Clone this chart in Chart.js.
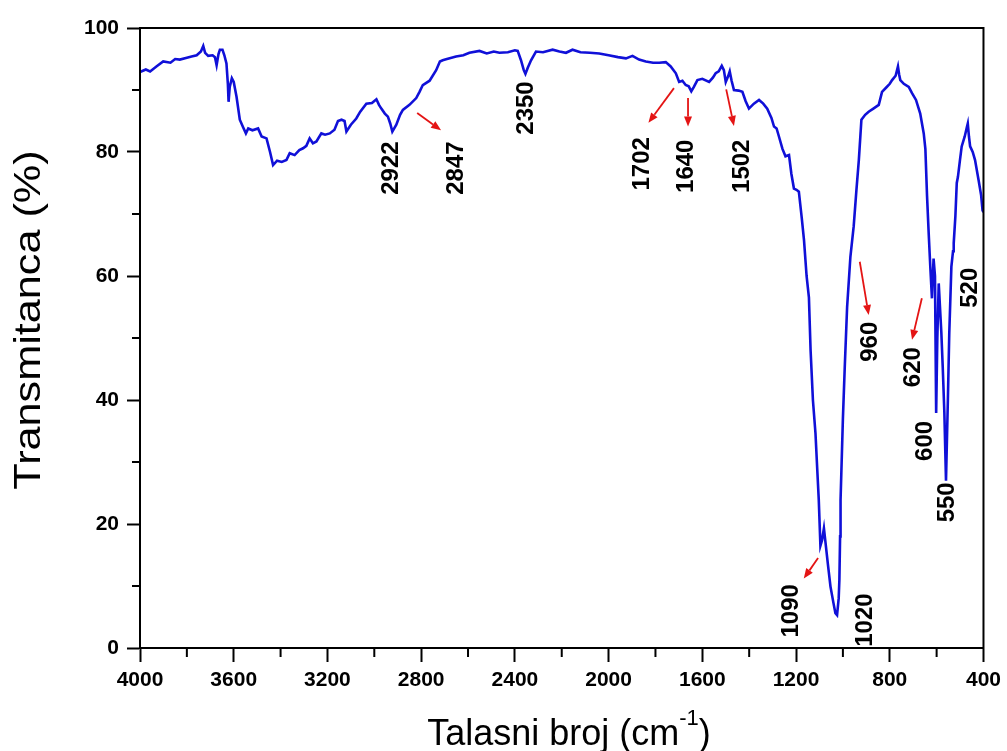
<!DOCTYPE html>
<html>
<head>
<meta charset="utf-8">
<script src="https://cdn.jsdelivr.net/npm/chart.js@4.4.0/dist/chart.umd.min.js"></script>
<style>
  html, body { margin: 0; padding: 0; background: #fff; }
  canvas { display: block; }
</style>
</head>
<body>
<canvas id="ftirChart" width="1007" height="751"></canvas>
<script>
// FTIR spectrum (wavenumber in cm-1, transmittance in %)
const wavenumbers = [
    4000, 3975, 3957, 3930, 3901, 3870, 3850, 3830, 3800, 3780, 3758, 3740, 3730, 3722, 3709, 3690,
    3680, 3673, 3665, 3659, 3648, 3640, 3631, 3625, 3622, 3617, 3608, 3600, 3588, 3574, 3560, 3548,
    3538, 3520, 3496, 3481, 3460, 3445, 3432, 3415, 3395, 3375, 3361, 3340, 3320, 3304, 3290, 3276,
    3262, 3247, 3226, 3210, 3190, 3170, 3155, 3140, 3127, 3119, 3100, 3077, 3060, 3034, 3010, 2991,
    2980, 2970, 2955, 2942, 2932, 2923, 2906, 2890, 2878, 2850, 2821, 2807, 2793, 2764, 2736, 2720,
    2708, 2690, 2651, 2620, 2594, 2551, 2520, 2490, 2466, 2430, 2400, 2388, 2374, 2362, 2355, 2345,
    2331, 2310, 2280, 2239, 2210, 2182, 2154, 2120, 2080, 2040, 2000, 1960, 1926, 1898, 1870, 1841,
    1810, 1784, 1756, 1735, 1713, 1699, 1685, 1671, 1658, 1647, 1636, 1621, 1600, 1571, 1555, 1543,
    1530, 1517, 1508, 1500, 1490, 1483, 1475, 1465, 1445, 1429, 1415, 1401, 1380, 1358, 1340, 1323,
    1305, 1294, 1283, 1273, 1258, 1245, 1230, 1220, 1209, 1198, 1188, 1176, 1166, 1155, 1145, 1138,
    1128, 1117, 1110, 1103, 1096, 1089, 1081, 1074, 1064, 1053, 1040, 1032, 1025, 1018, 1015, 1012,
    1010, 1000, 992, 982, 968, 954, 942, 932, 921, 905, 890, 870, 847, 833, 815, 800,
    790, 775, 765, 760, 755, 740, 719, 705, 688, 670, 655, 648, 641, 634, 627, 620,
    613, 607, 602, 597, 591, 585, 580, 574, 567, 560, 552, 546, 537, 530, 527, 520,
    514, 509, 500, 493, 480, 471, 467, 462, 457, 446, 436, 421, 410, 404, 400
];
const transmittance = [
    92.9, 93.3, 93.0, 93.8, 94.6, 94.4, 95.0, 94.9, 95.2, 95.4, 95.6, 96.2, 97.1, 96.0, 95.5, 95.6,
    95.3, 94.0, 95.8, 96.5, 96.5, 95.6, 94.3, 91.0, 88.1, 90.5, 91.9, 91.3, 88.9, 85.2, 84.0, 83.0,
    83.8, 83.5, 83.8, 82.5, 82.2, 80.0, 77.9, 78.6, 78.4, 78.7, 79.8, 79.5, 80.3, 80.6, 81.0, 82.2,
    81.4, 81.7, 83.0, 82.8, 83.0, 83.6, 85.0, 85.2, 85.0, 83.3, 84.4, 85.4, 86.5, 87.8, 87.9, 88.5,
    87.6, 87.0, 86.2, 85.7, 84.6, 83.3, 84.4, 86.0, 86.8, 87.6, 88.7, 89.7, 90.8, 91.5, 93.2, 94.6,
    94.8, 95.0, 95.4, 95.6, 96.0, 96.3, 95.9, 96.2, 96.0, 96.1, 96.4, 96.3, 94.8, 93.2, 92.6, 93.6,
    94.8, 96.2, 96.1, 96.5, 96.2, 96.0, 96.5, 96.1, 96.0, 95.9, 95.6, 95.3, 95.1, 95.5, 94.9, 94.6,
    94.4, 94.4, 94.5, 93.8, 92.7, 91.3, 91.5, 90.8, 90.6, 89.8, 90.5, 91.6, 91.8, 91.3, 92.0, 92.7,
    93.0, 93.9, 93.2, 91.3, 92.2, 93.0, 91.5, 90.0, 89.9, 89.7, 88.2, 87.0, 87.8, 88.4, 87.8, 87.0,
    85.5, 84.1, 83.8, 82.5, 80.5, 79.3, 79.5, 76.5, 74.1, 73.9, 73.6, 69.5, 65.8, 60.0, 56.5, 48.1,
    40.0, 34.6, 29.2, 23.9, 16.5, 17.4, 19.3, 16.9, 13.5, 9.9, 7.2, 5.6, 5.3, 8.0, 11.0, 18.0,
    23.9, 37.0, 45.4, 55.0, 63.1, 68.0, 74.0, 78.7, 85.2, 86.0, 86.5, 87.0, 87.6, 89.7, 90.4, 91.0,
    91.6, 92.3, 93.8, 92.5, 91.6, 91.0, 90.5, 89.5, 88.4, 86.2, 83.0, 80.5, 73.0, 67.0, 61.5, 56.4,
    62.8, 60.0, 37.9, 50.0, 58.8, 54.5, 51.0, 45.4, 38.0, 27.0, 40.0, 50.8, 61.5, 64.0, 65.3, 69.6,
    75.0, 76.0, 78.8, 80.9, 82.5, 84.0, 84.6, 82.5, 80.9, 80.0, 78.7, 75.5, 73.0, 70.6, 70.3
];

// peak labels: text, where it sits (wavenumber, %)
const peakLabels = ['2922', '2847', '2350', '1702', '1640', '1502', '1090', '1020', '960', '620', '600', '550', '520'];
const labelWn = [2926, 2649, 2351, 1857, 1670, 1427, 1222, 903, 881, 698, 647, 553, 455];
const labelT = [77.4, 77.4, 87.1, 78.1, 77.7, 77.7, 6.0, 4.5, 49.4, 45.3, 33.4, 23.5, 58.1];

// red arrows: [fromWn, fromT, toWn, toT]
const arrows = [
    [2817, 86.3, 2715, 83.5],
    [1721, 90.3, 1830, 84.7],
    [1661, 88.7, 1661, 84.1],
    [1498, 90.1, 1465, 84.2],
    [1106, 14.5, 1167, 11.2],
    [928, 62.3, 890, 53.7],
    [663, 56.4, 705, 49.7]
];

const xMajorTicks = [4000, 3600, 3200, 2800, 2400, 2000, 1600, 1200, 800, 400];
const yMajorTicks = [0, 20, 40, 60, 80, 100];

const points = wavenumbers.map((w, i) => ({ x: w, y: transmittance[i] }));

const FONT = '"Liberation Sans", Arial, sans-serif';

// box, minor ticks, peak labels, arrows and axis titles
const decorPlugin = {
    id: 'decor',
    afterDraw(chart) {
        const ctx = chart.ctx;
        const area = chart.chartArea;
        const xs = chart.scales.x;
        const ys = chart.scales.y;

        ctx.save();
        ctx.strokeStyle = '#000';
        ctx.lineWidth = 2;
        ctx.strokeRect(area.left, area.top, area.right - area.left, area.bottom - area.top);

        // minor ticks
        ctx.beginPath();
        for (let w = 3800; w > 400; w -= 400) {
            const px = xs.getPixelForValue(w);
            ctx.moveTo(px, area.bottom);
            ctx.lineTo(px, area.bottom + 9);
        }
        for (let t = 10; t < 100; t += 20) {
            const py = ys.getPixelForValue(t);
            ctx.moveTo(area.left, py);
            ctx.lineTo(area.left - 8, py);
        }
        ctx.stroke();

        // arrows
        ctx.strokeStyle = '#e41414';
        ctx.fillStyle = '#e41414';
        ctx.lineWidth = 1.8;
        arrows.forEach(a => {
            const x1 = xs.getPixelForValue(a[0]), y1 = ys.getPixelForValue(a[1]);
            const x2 = xs.getPixelForValue(a[2]), y2 = ys.getPixelForValue(a[3]);
            const ang = Math.atan2(y2 - y1, x2 - x1);
            const hl = 10, hw = 4;
            const bx = x2 - hl * Math.cos(ang), by = y2 - hl * Math.sin(ang);
            ctx.beginPath();
            ctx.moveTo(x1, y1);
            ctx.lineTo(bx, by);
            ctx.stroke();
            ctx.beginPath();
            ctx.moveTo(x2, y2);
            ctx.lineTo(bx + hw * Math.sin(ang), by - hw * Math.cos(ang));
            ctx.lineTo(bx - hw * Math.sin(ang), by + hw * Math.cos(ang));
            ctx.closePath();
            ctx.fill();
        });

        // peak labels, rotated
        ctx.fillStyle = '#000';
        ctx.font = 'bold 24px ' + FONT;
        ctx.textAlign = 'center';
        ctx.textBaseline = 'middle';
        peakLabels.forEach((txt, i) => {
            ctx.save();
            ctx.translate(xs.getPixelForValue(labelWn[i]), ys.getPixelForValue(labelT[i]));
            ctx.rotate(-Math.PI / 2);
            ctx.fillText(txt, 0, 0);
            ctx.restore();
        });

        // y title (stretched along its length like the original)
        ctx.save();
        ctx.font = '36px ' + FONT;
        ctx.translate(30, 320);
        ctx.rotate(-Math.PI / 2);
        ctx.scale(1.2, 1);
        ctx.fillText('Transmitanca (%)', 0, 0);
        ctx.restore();

        // x title with superscript
        const mainFont = '36px ' + FONT, supFont = '22px ' + FONT;
        const partA = 'Talasni broj (cm', sup = '-1', partB = ')';
        ctx.font = mainFont;
        const wA = ctx.measureText(partA).width, wB = ctx.measureText(partB).width;
        ctx.font = supFont;
        const wS = ctx.measureText(sup).width;
        const x0 = 569 - (wA + wS + wB) / 2;
        const base = 745;
        ctx.textAlign = 'left';
        ctx.textBaseline = 'alphabetic';
        ctx.font = mainFont;
        ctx.fillText(partA, x0, base);
        ctx.font = supFont;
        ctx.fillText(sup, x0 + wA, base - 20);
        ctx.font = mainFont;
        ctx.fillText(partB, x0 + wA + wS, base);
        ctx.restore();
    }
};

new Chart(document.getElementById('ftirChart'), {
    type: 'line',
    data: {
        datasets: [{
            data: points,
            borderColor: '#1010d8',
            borderWidth: 2.6,
            pointRadius: 0,
            tension: 0,
            fill: false
        }]
    },
    options: {
        responsive: false,
        animation: false,
        layout: { padding: { top: 28, right: 22, left: 0, bottom: 0 } },
        plugins: { legend: { display: false }, tooltip: { enabled: false } },
        scales: {
            x: {
                type: 'linear',
                min: 400,
                max: 4000,
                reverse: true,
                afterFit: s => { s.height = 103; },
                afterBuildTicks: s => { s.ticks = xMajorTicks.map(v => ({ value: v })); },
                grid: { drawOnChartArea: false, tickLength: 14, tickWidth: 2, tickColor: '#000' },
                border: { display: true, color: '#000', width: 2 },
                ticks: {
                    color: '#000', padding: 6, maxRotation: 0,
                    font: { family: FONT, size: 21, weight: 'bold' },
                    callback: v => String(v)
                }
            },
            y: {
                min: 0,
                max: 100,
                afterFit: s => { s.width = 140; },
                afterBuildTicks: s => { s.ticks = yMajorTicks.map(v => ({ value: v })); },
                grid: { drawOnChartArea: false, tickLength: 13, tickWidth: 2, tickColor: '#000' },
                border: { display: true, color: '#000', width: 2 },
                ticks: {
                    color: '#000', padding: 8,
                    font: { family: FONT, size: 21, weight: 'bold' },
                    callback: v => String(v)
                }
            }
        }
    },
    plugins: [decorPlugin]
});
</script>
</body>
</html>
